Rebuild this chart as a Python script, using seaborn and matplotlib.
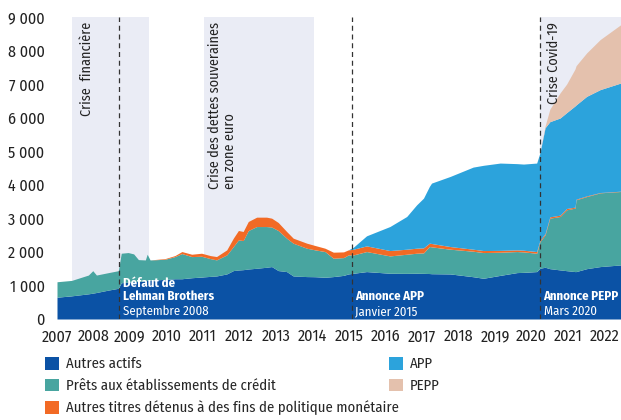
import matplotlib
matplotlib.use("Agg")
import matplotlib.pyplot as plt
from matplotlib.patches import Patch
import seaborn as sns

# Bilan de l'Eurosystème, en milliards d'euros
years = [2007.00, 2007.40, 2007.86, 2007.98, 2008.08, 2008.40, 2008.68, 2008.76, 2008.95, 2009.10,
         2009.23, 2009.42, 2009.47, 2009.55, 2009.96, 2010.23, 2010.42, 2010.69, 2010.96, 2011.20,
         2011.37, 2011.65, 2011.83, 2011.97, 2012.10, 2012.24, 2012.47, 2012.74, 2012.88, 2013.06,
         2013.29, 2013.47, 2013.84, 2014.07, 2014.34, 2014.57, 2014.85, 2014.98, 2015.12, 2015.48,
         2016.12, 2016.58, 2016.85, 2017.04, 2017.20, 2017.26, 2017.77, 2018.40, 2018.68, 2019.14,
         2019.60, 2019.78, 2020.14, 2020.23, 2020.37, 2020.50, 2020.78, 2020.96, 2021.19, 2021.22,
         2021.51, 2021.88, 2022.45]
autres_actifs = [650, 690, 750, 770, 790, 860, 915, 1080, 1100, 1110,
                 1120, 1140, 1150, 1160, 1180, 1200, 1200, 1230, 1250, 1270,
                 1283, 1343, 1443, 1460, 1470, 1490, 1512, 1542, 1562, 1443,
                 1413, 1283, 1264, 1260, 1244, 1264, 1300, 1343, 1363, 1413,
                 1363, 1360, 1363, 1360, 1355, 1350, 1343, 1260, 1214, 1300,
                 1383, 1390, 1413, 1512, 1542, 1500, 1463, 1440, 1413, 1413,
                 1500, 1562, 1612]
prets = [460, 460, 560, 670, 520, 520, 525, 880, 880, 830,
         650, 620, 780, 600, 600, 660, 750, 630, 620, 530,
         478, 567, 716, 898, 868, 1146, 1243, 1213, 1178, 1193,
         995, 976, 846, 800, 766, 547, 530, 567, 547, 597,
         517, 570, 597, 610, 805, 800, 737, 760, 766, 690,
         627, 610, 547, 796, 965, 1505, 1592, 1814, 1891, 2139,
         2150, 2198, 2188]
autres_titres = [0, 0, 0, 0, 0, 0, 0, 0, 0, 0,
                 0, 0, 0, 0, 20, 30, 60, 70, 90, 90,
                 100, 150, 250, 280, 270, 270, 280, 280, 265, 240,
                 200, 150, 150, 130, 100, 180, 170, 150, 170, 169,
                 160, 150, 150, 150, 100, 100, 79, 60, 60, 55,
                 50, 50, 50, 40, 40, 40, 40, 40, 30, 20,
                 20, 10, 10]
app = [0, 0, 0, 0, 0, 0, 0, 0, 0, 0,
       0, 0, 0, 0, 0, 0, 0, 0, 0, 0,
       0, 0, 0, 0, 0, 0, 0, 0, 0, 0,
       0, 0, 0, 0, 0, 0, 0, 0, 60, 300,
       716, 975, 1290, 1482, 1690, 1800, 2089, 2447, 2540, 2602,
       2570, 2567, 2637, 2607, 3153, 2835, 2895, 2856, 3016, 2808,
       2966, 3066, 3225]
pepp = [0] * 53 + [0, 50, 370, 747, 850, 1100, 1170, 1295, 1492, 1741]

series_labels = ["Autres actifs", "Prêts aux établissements de crédit",
                 "Autres titres détenus à des fins de politique monétaire", "APP", "PEPP"]
colors = ["#0B52A5", "#48A5A0", "#F26A25", "#2CA3DC", "#E4C1AD"]
crises = [(2007.41, 2009.52), (2011.03, 2014.04), (2020.23, 2022.45)]
events = [2008.70, 2015.08, 2020.23]
year_ticks = list(range(2007, 2023))
y_ticks = list(range(0, 9001, 1000))

sns.set_theme(style="white")
plt.rcParams["font.family"] = ["Fira Sans Condensed", "Roboto Condensed", "DejaVu Sans"]

fig = plt.figure(figsize=(6.21, 4.20), dpi=100)
ax = fig.add_axes([57 / 621, 1 - 319 / 420, 1 - 57 / 621, 302 / 420])

shade = "#EAECF5"
for start, end in crises:
    ax.axvspan(start, end, color=shade, lw=0, zorder=0)

ax.stackplot(years, autres_actifs, prets, autres_titres, app, pepp,
             colors=colors, lw=0, zorder=2)

for ev in events:
    ax.axvline(ev, color="#333333", lw=0.9, ls=(0, (4, 3)), zorder=3)

ax.set_xlim(2007, 2022.45)
ax.set_ylim(0, 9000)
ax.set_xticks(year_ticks)
ax.set_xticklabels([str(y) for y in year_ticks], fontsize=11.5)
ax.set_yticks(y_ticks)
ax.set_yticklabels([f"{v:,}".replace(",", " ") for v in y_ticks], fontsize=11.5)
ax.tick_params(axis="x", length=0, pad=7, colors="#222222")
ax.tick_params(axis="y", length=0, pad=9, colors="#222222")
sns.despine(ax=ax, left=True, bottom=True)

# periodes de crise
rot = dict(rotation=90, va="top", ha="center", fontsize=10.2, color="#222222", zorder=4)
ax.text(2007.83, 8850, "Crise  financière", **rot)
ax.text(2011.52, 8850, "Crise des dettes souveraines\nen zone euro", multialignment="left",
        linespacing=1.05, **rot)
ax.text(2020.6, 8850, "Crise Covid-19", **rot)

# annotations des evenements
ev_kw = dict(color="white", fontsize=9.2, va="center", zorder=4)
ax.text(2008.82, 1075, "Défaut de", fontweight="bold", **ev_kw)
ax.text(2008.82, 680, "Lehman Brothers", fontweight="bold", **ev_kw)
ax.text(2008.82, 230, "Septembre 2008", **ev_kw)
ax.text(2015.17, 680, "Annonce APP", fontweight="bold", **ev_kw)
ax.text(2015.17, 230, "Janvier 2015", **ev_kw)
ax.text(2020.33, 680, "Annonce PEPP", fontweight="bold", **ev_kw)
ax.text(2020.33, 230, "Mars 2020", **ev_kw)

handles = [Patch(facecolor=c, edgecolor="none") for c in colors]
leg_kw = dict(loc="upper left", frameon=False, fontsize=10.6, borderaxespad=0, borderpad=0,
              handlelength=0.95, handleheight=0.95, handletextpad=0.45, labelspacing=0.5)
fig.legend(handles[:3], series_labels[:3], bbox_to_anchor=(45 / 621, 1 - 357 / 420), **leg_kw)
fig.legend(handles[3:], series_labels[3:], bbox_to_anchor=(389 / 621, 1 - 357 / 420), **leg_kw)

fig.savefig("out.png", dpi=100)
